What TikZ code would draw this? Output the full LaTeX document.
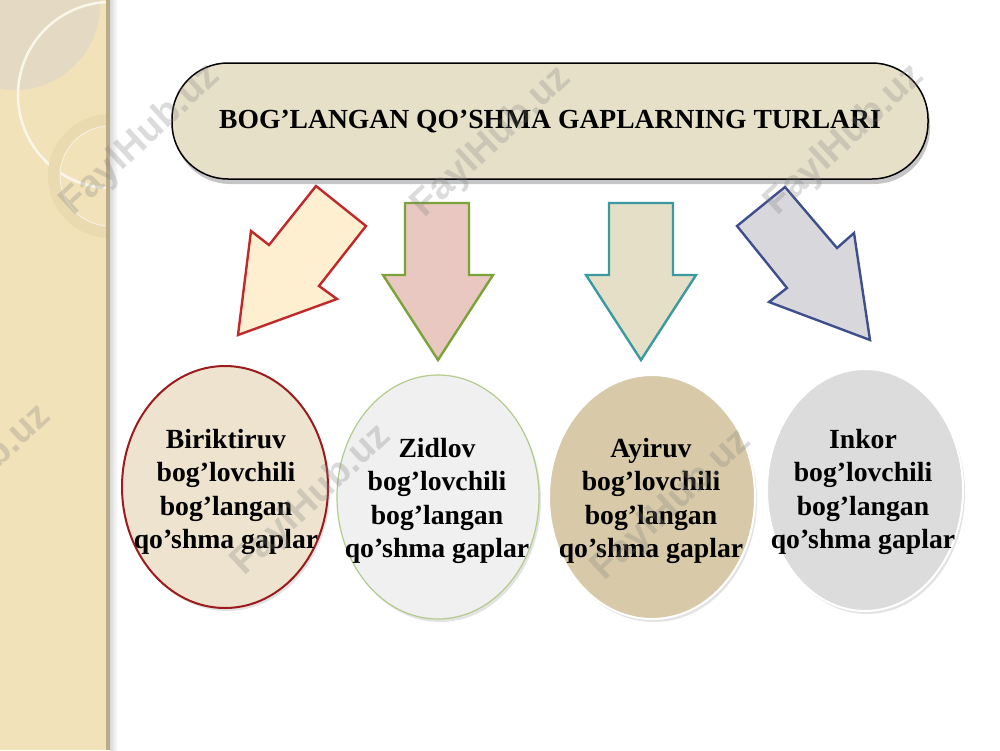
\documentclass[tikz,border=0pt]{standalone}
\usepackage{fontspec}
\setmainfont{Liberation Serif}
\setsansfont{Liberation Sans}
\usetikzlibrary{shapes.geometric,shadows}
\definecolor{stripc}{HTML}{F2E2BA}
\definecolor{edgec}{HTML}{B9AA88}
\definecolor{discc}{HTML}{E4DAC4}
\definecolor{ringc}{HTML}{EADAB0}
\definecolor{boxfill}{HTML}{E7E0C9}
\definecolor{redln}{HTML}{C0282A}
\definecolor{redfill}{HTML}{FDEFD0}
\definecolor{grnln}{HTML}{7BA33A}
\definecolor{grnfill}{HTML}{E8C8C0}
\definecolor{tealln}{HTML}{3A9AA0}
\definecolor{tealfill}{HTML}{E6DFC8}
\definecolor{bluln}{HTML}{3E4F8C}
\definecolor{blufill}{HTML}{D8D8DC}
\definecolor{eAfill}{HTML}{EEE3CE}
\definecolor{eAln}{HTML}{9B1B1E}
\definecolor{eBfill}{HTML}{F0F0F0}
\definecolor{eBln}{HTML}{B3CB8C}
\definecolor{eCfill}{HTML}{D8CAA8}
\definecolor{eDfill}{HTML}{DCDCDC}
\tikzset{
  blockarrow/.style={line width=2.4pt, line join=miter},
  ovalshape/.style={ellipse, inner sep=0pt,
    drop shadow={shadow xshift=2pt, shadow yshift=-3pt, opacity=0.22}},
  ovaltext/.style={align=center, inner sep=0pt,
    font=\fontsize{27.7}{33.6}\selectfont\bfseries},
  titlebox/.style={draw=black, line width=1.5pt, fill=boxfill, rounded corners=56pt,
    minimum width=756pt, minimum height=116pt, inner sep=0pt,
    drop shadow={shadow xshift=2pt, shadow yshift=-5pt, opacity=0.45}},
  titletext/.style={inner sep=0pt, font=\fontsize{27.6}{30}\selectfont\bfseries},
  wmark/.style={font=\sffamily\bfseries\fontsize{38}{40}\selectfont, text=gray, opacity=0.28, rotate=43}
}
\begin{document}
\begin{tikzpicture}[x=1pt,y=-1pt]
\useasboundingbox (0,0) rectangle (1000,750);
\fill[white] (0,0) rectangle (1000,750);
% left decorative strip
\fill[stripc] (0,0) rectangle (110,750);
\begin{scope}
  \clip (0,0) rectangle (108,750);
  \fill[discc] (15,5) circle (85);
  \draw[white!70!stripc, line width=2.5pt] (111,95) circle (93);
  \fill[ringc, even odd rule] (110,176) circle (62) (110,176) circle (50);
  \draw[white!60!ringc, line width=1pt] (110,176) circle (50);
\end{scope}
\fill[edgec] (106,0) rectangle (110,750);
\shade[left color=black!15, right color=white] (110,0) rectangle (118,750);
% title
\node[titlebox] (top) at (550,121) {};
\node[titletext] (toptext) at (550,122) {BOG’LANGAN QO’SHMA GAPLARNING TURLARI};
% arrows
\draw[blockarrow, draw=redln, fill=redfill]
  (316,186) -- (366,226) -- (319,286) -- (337,299) -- (238,335) -- (251,231) -- (269,245) -- cycle;
\draw[blockarrow, draw=grnln, fill=grnfill]
  (405,203) -- (469,203) -- (469,275) -- (493,275) -- (438,360) -- (383,275) -- (405,275) -- cycle;
\draw[blockarrow, draw=tealln, fill=tealfill]
  (609,203) -- (673,203) -- (673,275) -- (696,275) -- (641,360) -- (586,275) -- (609,275) -- cycle;
\draw[blockarrow, draw=bluln, fill=blufill]
  (785,187) -- (837,248) -- (854,233) -- (870,340) -- (769,302) -- (787,288) -- (737,226) -- cycle;
% ovals
\node[ovalshape, draw=eAln, line width=2pt, fill=eAfill, minimum width=206pt, minimum height=242pt]
  (e1) at (225,487) {};
\node[ovalshape, draw=eBln, line width=1.2pt, fill=eBfill, minimum width=202pt, minimum height=244pt]
  (e2) at (438,497) {};
\node[ovalshape, draw=white, line width=2pt, fill=eCfill, minimum width=206pt, minimum height=244pt]
  (e3) at (652,497) {};
\node[ovalshape, draw=white, line width=2pt, fill=eDfill, minimum width=196pt, minimum height=242pt]
  (e4) at (865,490) {};
\node[ovaltext] (t1) at (226,492) {Biriktiruv\\bog’lovchili\\bog’langan\\qo’shma gaplar};
\node[ovaltext] (t2) at (437,501) {Zidlov\\bog’lovchili\\bog’langan\\qo’shma gaplar};
\node[ovaltext] (t3) at (651,501) {Ayiruv\\bog’lovchili\\bog’langan\\qo’shma gaplar};
\node[ovaltext] (t4) at (863,492) {Inkor\\bog’lovchili\\bog’langan\\qo’shma gaplar};
% watermarks
\begin{scope}
  \clip (0,0) rectangle (1000,750);
  \node[wmark] (w1) at (141,140) {FaylHub.uz};
  \node[wmark] (w2) at (492,142) {FaylHub.uz};
  \node[wmark] (w3) at (845,140) {FaylHub.uz};
  \node[wmark] (w4) at (-28,480) {FaylHub.uz};
  \node[wmark] (w5) at (312,500) {FaylHub.uz};
  \node[wmark] (w6) at (672,505) {FaylHub.uz};
\end{scope}
\end{tikzpicture}
\end{document}
